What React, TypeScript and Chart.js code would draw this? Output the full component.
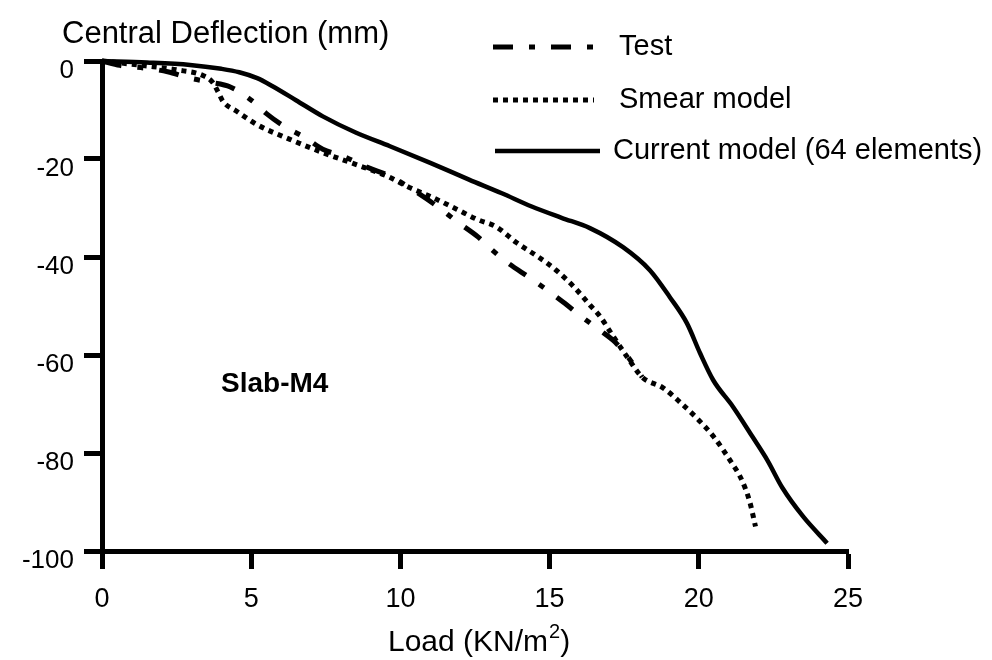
import React, { useEffect, useRef } from 'react';
import { Chart, registerables } from 'chart.js';

Chart.register(...registerables);

const FONT = '"Liberation Sans", Arial, Helvetica, sans-serif';

// Load (KN/m^2) and central deflection (mm)
const testLoad = [0, 0.6, 1.5, 2.2, 2.95, 3.6, 4.3, 5.05, 5.5, 6.1, 6.8, 7.4, 8.1, 8.9, 9.65, 10.4, 11.2, 11.9, 12.6, 13.1, 13.6, 14.35, 14.9, 15.45, 16.1, 16.7, 17.2, 17.7, 18.1];
const testDefl = [0, -0.9, -1.5, -2.2, -3.5, -4.3, -5.3, -8.2, -10.7, -13.3, -15.6, -18, -19.5, -21.7, -23.5, -26.2, -29.5, -32.8, -35.9, -38.7, -41.2, -44.3, -46.7, -49.2, -52.3, -55, -57.4, -61, -64.5];

const smearLoad = [0, 1.5, 2.5, 3.4, 3.7, 3.9, 4.05, 4.5, 5.2, 6.3, 7.4, 8.5, 9.55, 10.3, 11.1, 11.9, 12.6, 13.2, 13.9, 14.6, 15.2, 15.8, 16.35, 16.7, 17.1, 17.6, 18.1, 18.8, 19.4, 20.0, 20.5, 21.1, 21.4, 21.7, 21.9];
const smearDefl = [0, -1, -1.8, -3, -4.3, -6.4, -8.2, -10.2, -13, -16, -18.7, -21.1, -23.5, -25.8, -27.9, -30.3, -32.4, -33.8, -37.1, -39.9, -42.6, -46, -49.8, -52.2, -55.9, -60.4, -64.5, -66.7, -69.8, -73.3, -76.7, -82, -85, -89.8, -95];

const currentLoad = [0, 1.5, 2.95, 4, 4.6, 5.2, 5.7, 6.5, 7.4, 8.5, 9.65, 11, 12.3, 13.4, 14.4, 15.4, 16.35, 17.46, 18.36, 19.03, 19.6, 20.04, 20.48, 21.15, 21.8, 22.3, 22.8, 23.5, 24.3];
const currentDefl = [0, -0.3, -0.8, -1.6, -2.3, -3.5, -5.1, -8, -11.3, -14.6, -17.4, -20.8, -24.2, -27, -29.7, -32, -34.1, -38, -42.7, -48.2, -53.5, -59.6, -65.1, -70.6, -76.7, -81.5, -87.1, -93, -98.4];

const seriesNames = ['Test', 'Smear model', 'Current model (64 elements)'];
const xTickValues = [0, 5, 10, 15, 20, 25];
const yTickValues = [0, -20, -40, -60, -80, -100];
const yAxisLabel = 'Central Deflection (mm)';
const xAxisLabelMain = 'Load (KN/m';
const xAxisLabelSup = '2';
const xAxisLabelEnd = ')';
const slabLabel = 'Slab-M4';

const dashStyles = [[20, 16, 6, 16], [5, 5], []];
const lineWidths = [5, 5, 4.5];

const toPoints = (xs: number[], ys: number[]) => xs.map((x, i) => ({ x, y: ys[i] }));

const overlayPlugin = {
  id: 'overlayText',
  afterDraw(chart: any) {
    const ctx = chart.ctx as CanvasRenderingContext2D;
    ctx.save();
    ctx.fillStyle = '#000';
    ctx.strokeStyle = '#000';
    ctx.textBaseline = 'middle';
    ctx.textAlign = 'left';
    ctx.font = `31px ${FONT}`;
    ctx.fillText(yAxisLabel, 62, 34);
    ctx.font = `bold 28px ${FONT}`;
    ctx.fillText(slabLabel, 221, 384);

    // x axis title with superscript
    ctx.textBaseline = 'alphabetic';
    ctx.font = `30px ${FONT}`;
    let x = 388;
    const base = 651;
    ctx.fillText(xAxisLabelMain, x, base);
    x += ctx.measureText(xAxisLabelMain).width;
    ctx.font = `20px ${FONT}`;
    ctx.fillText(xAxisLabelSup, x + 1, base - 13);
    x += ctx.measureText(xAxisLabelSup).width + 1;
    ctx.font = `30px ${FONT}`;
    ctx.fillText(xAxisLabelEnd, x, base);

    // legend
    ctx.textBaseline = 'middle';
    const rows = [
      { y: 47, x0: 493, x1: 594, tx: 619 },
      { y: 100, x0: 493, x1: 594, tx: 619 },
      { y: 151, x0: 495, x1: 600, tx: 613 },
    ];
    ctx.font = `29px ${FONT}`;
    rows.forEach((r, i) => {
      ctx.beginPath();
      ctx.lineWidth = lineWidths[i];
      ctx.lineCap = 'butt';
      ctx.setLineDash(dashStyles[i]);
      ctx.moveTo(r.x0, r.y);
      ctx.lineTo(r.x1, r.y);
      ctx.stroke();
      ctx.setLineDash([]);
      ctx.fillText(seriesNames[i], r.tx, r.y);
    });
    ctx.restore();
  },
};

export default function App() {
  const canvasRef = useRef<HTMLCanvasElement | null>(null);

  useEffect(() => {
    if (!canvasRef.current) return;
    const series = [
      toPoints(testLoad, testDefl),
      toPoints(smearLoad, smearDefl),
      toPoints(currentLoad, currentDefl),
    ];
    const chart = new Chart(canvasRef.current, {
      type: 'line',
      data: {
        datasets: series.map((data, i) => ({
          label: seriesNames[i],
          data,
          borderColor: '#000',
          backgroundColor: '#000',
          borderWidth: lineWidths[i],
          borderDash: dashStyles[i],
          borderCapStyle: 'butt',
          pointRadius: 0,
          fill: false,
          cubicInterpolationMode: 'monotone',
          clip: false,
        })),
      },
      options: {
        animation: false,
        responsive: true,
        maintainAspectRatio: false,
        layout: { padding: { left: 0, right: 144, top: 61, bottom: 0 } },
        plugins: {
          legend: { display: false },
          tooltip: { enabled: false },
        },
        scales: {
          x: {
            type: 'linear',
            min: 0,
            max: 25,
            afterBuildTicks: (scale: any) => {
              scale.ticks = xTickValues.map((v) => ({ value: v }));
            },
            afterFit: (scale: any) => {
              scale.height = 109;
            },
            ticks: {
              color: '#000',
              font: { family: FONT, size: 27 },
              padding: 14,
              maxRotation: 0,
              autoSkip: false,
            },
            grid: {
              display: true,
              drawOnChartArea: false,
              drawTicks: true,
              tickLength: 18,
              tickWidth: 5,
              tickColor: '#000',
              color: '#000',
            },
            border: { display: true, color: '#000', width: 5 },
          },
          y: {
            type: 'linear',
            min: -100,
            max: 0,
            afterBuildTicks: (scale: any) => {
              scale.ticks = yTickValues.map((v) => ({ value: v }));
            },
            afterFit: (scale: any) => {
              scale.width = 102;
            },
            ticks: {
              color: '#000',
              font: { family: FONT, size: 26 },
              padding: 10,
              labelOffset: 10,
              autoSkip: false,
            },
            grid: {
              display: true,
              drawOnChartArea: false,
              drawTicks: true,
              tickLength: 18,
              tickWidth: 5,
              tickColor: '#000',
              color: '#000',
            },
            border: { display: true, color: '#000', width: 5 },
          },
        },
      },
      plugins: [overlayPlugin],
    } as any);
    return () => chart.destroy();
  }, []);

  return (
    <div style={{ position: 'fixed', left: 0, top: 0, width: 992, height: 660, background: '#fff' }}>
      <canvas ref={canvasRef} />
    </div>
  );
}
